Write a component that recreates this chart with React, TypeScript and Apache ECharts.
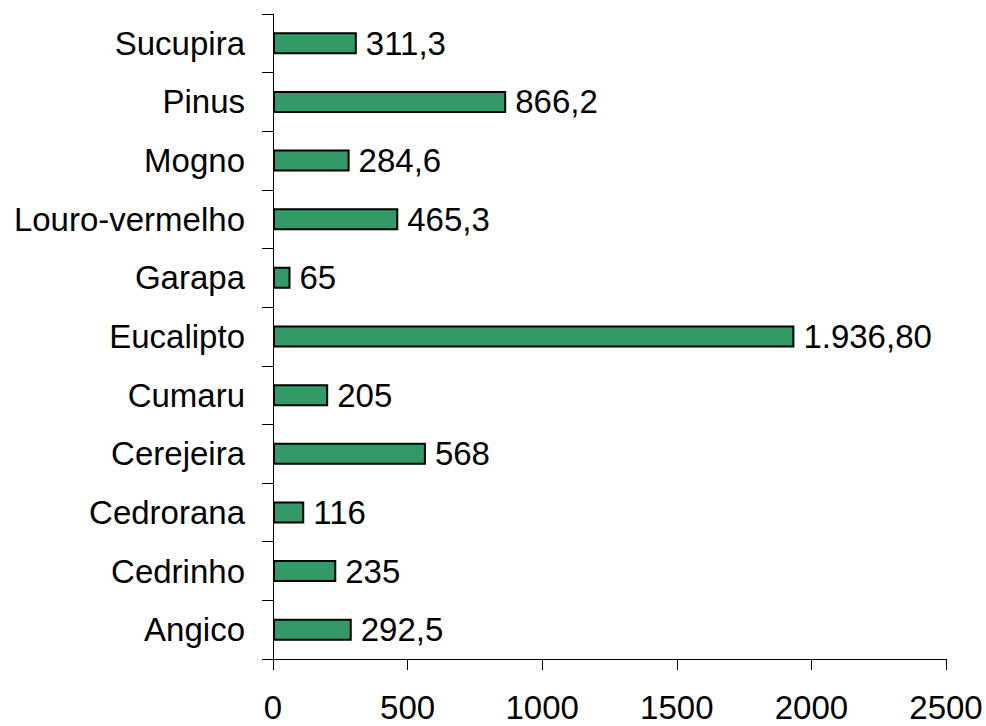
import React, { useEffect, useRef } from "react";
import * as echarts from "echarts";

const categories = [
  "Angico",
  "Cedrinho",
  "Cedrorana",
  "Cerejeira",
  "Cumaru",
  "Eucalipto",
  "Garapa",
  "Louro-vermelho",
  "Mogno",
  "Pinus",
  "Sucupira",
];
const values = [292.5, 235, 116, 568, 205, 1936.8, 65, 465.3, 284.6, 866.2, 311.3];
const valueLabels = ["292,5", "235", "116", "568", "205", "1.936,80", "65", "465,3", "284,6", "866,2", "311,3"];

export default function App() {
  const ref = useRef<HTMLDivElement>(null);
  useEffect(() => {
    if (!ref.current) return;
    const chart = echarts.init(ref.current, null, { renderer: "svg" });
    const font = "Liberation Sans, Arial, sans-serif";
    chart.setOption({
      animation: false,
      grid: { left: 273, top: 14, right: 40, bottom: 67, containLabel: false },
      xAxis: {
        type: "value",
        min: 0,
        max: 2500,
        interval: 500,
        splitLine: { show: false },
        axisLine: { show: true, lineStyle: { color: "#000", width: 1 } },
        axisTick: { show: true, length: 11, lineStyle: { color: "#000", width: 1 } },
        axisLabel: {
          color: "#000",
          fontSize: 33,
          fontFamily: font,
          margin: 32,
          formatter: (v: number) => String(v),
        },
      },
      yAxis: {
        type: "category",
        data: categories,
        axisLine: { show: true, lineStyle: { color: "#000", width: 1 } },
        axisTick: { show: true, length: 11, lineStyle: { color: "#000", width: 1 } },
        axisLabel: { color: "#000", fontSize: 33, fontFamily: font, margin: 28 },
      },
      series: [
        {
          type: "bar",
          data: values.map((v, i) => ({ value: v, label: { formatter: valueLabels[i] } })),
          barWidth: 22,
          itemStyle: { color: "#339966", borderColor: "#000", borderWidth: 2 },
          label: {
            show: true,
            position: "right",
            distance: 9,
            color: "#000",
            fontSize: 33,
            fontFamily: font,
          },
        },
      ],
    });
    return () => chart.dispose();
  }, []);
  return <div ref={ref} style={{ width: 986, height: 726, position: "absolute", left: 0, top: 0 }} />;
}
